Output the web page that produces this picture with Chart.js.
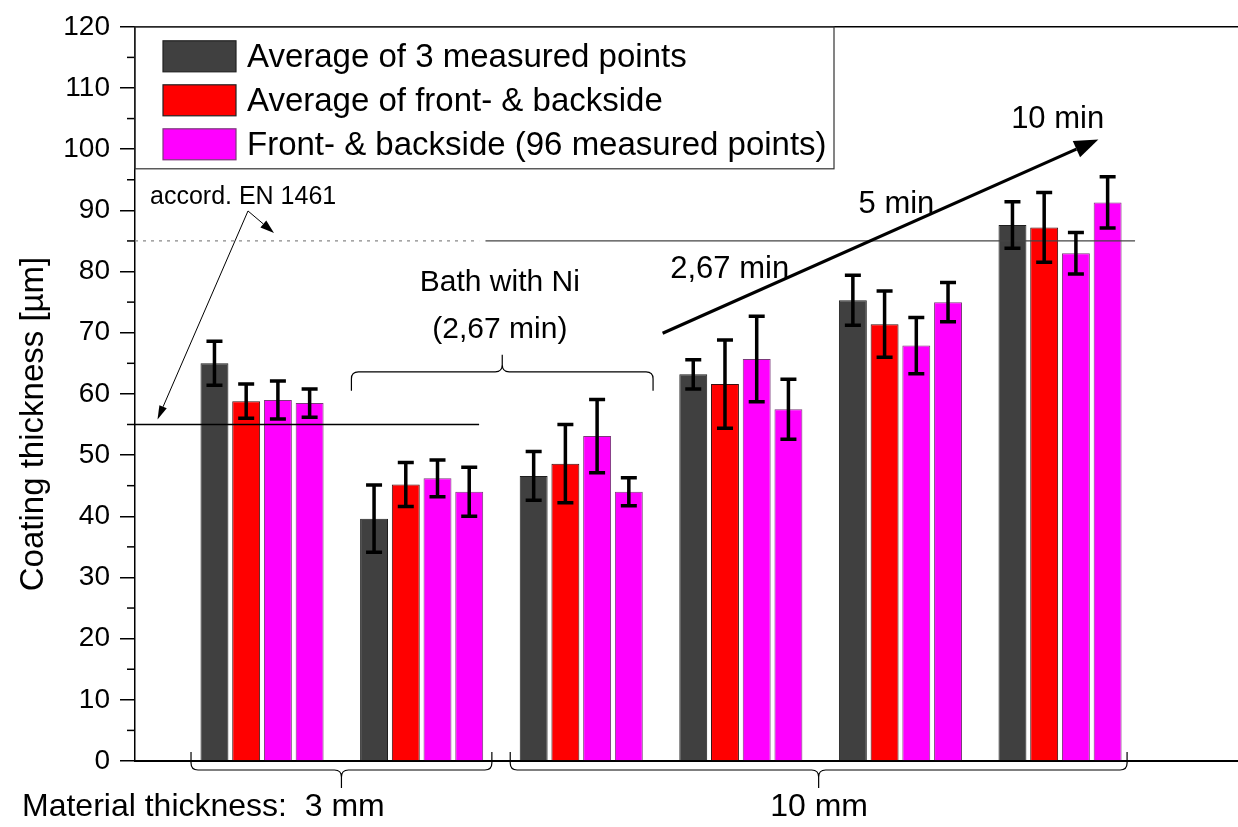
<!DOCTYPE html>
<html>
<head>
<meta charset="utf-8">
<script src="https://cdn.jsdelivr.net/npm/chart.js"></script>
<style>
  html, body { margin: 0; padding: 0; background: #fff; }
</style>
</head>
<body>
<canvas id="canvas" width="1238" height="827"></canvas>
<script>
// group positions on the x axis (3 mm sample first, then the 10 mm samples)
var groups = [1, 2, 3, 4, 5, 6];

var avg3Points   = [65.0, 39.6, 46.6, 63.2, 75.3, 87.6];
var avg3Err      = [3.6, 5.5, 4.0, 2.4, 4.1, 3.8];
var avgFrontBack = [58.8, 45.2, 48.6, 61.6, 71.4, 87.2];
var avgFBErr     = [2.8, 3.6, 6.4, 7.2, 5.4, 5.7];
var frontSide    = [59.0, 46.2, 53.1, 65.7, 67.9, 83.0];
var frontErr     = [3.1, 3.0, 6.0, 7.0, 4.6, 3.4];
var backSide     = [58.5, 44.0, 44.0, 57.5, 75.0, 91.3];
var backErr      = [2.3, 4.0, 2.3, 4.9, 3.2, 4.2];

var seriesLabels = ['Average of 3 measured points', 'Average of front- & backside', 'Front- & backside (96 measured points)'];
var seriesColors = ['#404040', '#ff0000', '#ff00ff'];

var yMin = 0, yMax = 120, yStep = 10;
var limitLow = 55, limitHigh = 85;   // accord. EN 1461

var FONT = '"Liberation Sans", Arial, sans-serif';

function pts(vals) {
   return vals.map(function(v, i) { return {x: groups[i], y: v}; });
}

function arrow(ctx, x1, y1, x2, y2, lw, headLen, headW) {
   var a = Math.atan2(y2 - y1, x2 - x1);
   var bx = x2 - headLen * Math.cos(a), by = y2 - headLen * Math.sin(a);
   ctx.lineWidth = lw;
   ctx.beginPath();
   ctx.moveTo(x1, y1);
   ctx.lineTo(bx, by);
   ctx.stroke();
   ctx.beginPath();
   ctx.moveTo(x2, y2);
   ctx.lineTo(bx + headW / 2 * Math.sin(a), by - headW / 2 * Math.cos(a));
   ctx.lineTo(bx - headW / 2 * Math.sin(a), by + headW / 2 * Math.cos(a));
   ctx.closePath();
   ctx.fill();
}

function brace(ctx, xL, xR, yEnd, yLine, yTip) {
   var xm = (xL + xR) / 2, r = 7;
   var s = yTip > yLine ? 1 : -1;
   ctx.beginPath();
   ctx.moveTo(xL, yEnd);
   ctx.lineTo(xL, yLine - s * r);
   ctx.quadraticCurveTo(xL, yLine, xL + r, yLine);
   ctx.lineTo(xm - r, yLine);
   ctx.quadraticCurveTo(xm, yLine, xm, yLine + s * r);
   ctx.lineTo(xm, yTip);
   ctx.moveTo(xm, yLine + s * r);
   ctx.quadraticCurveTo(xm, yLine, xm + r, yLine);
   ctx.lineTo(xR - r, yLine);
   ctx.quadraticCurveTo(xR, yLine, xR, yLine - s * r);
   ctx.lineTo(xR, yEnd);
   ctx.stroke();
}

var errorBars = {
   id: 'errorBars',
   afterDatasetsDraw: function(chart) {
      var ctx = chart.ctx, ys = chart.scales.y, xs = chart.scales.x, ca = chart.chartArea;
      ctx.save();
      // reference lines
      ctx.strokeStyle = '#000';
      ctx.lineWidth = 1.3;
      ctx.beginPath();
      ctx.moveTo(ca.left, ys.getPixelForValue(limitLow));
      ctx.lineTo(xs.getPixelForValue(2.36), ys.getPixelForValue(limitLow));
      ctx.stroke();
      ctx.strokeStyle = '#888';
      ctx.setLineDash([3, 5]);
      ctx.beginPath();
      ctx.moveTo(ca.left, ys.getPixelForValue(limitHigh));
      ctx.lineTo(xs.getPixelForValue(2.36), ys.getPixelForValue(limitHigh));
      ctx.stroke();
      ctx.setLineDash([]);
      ctx.strokeStyle = '#444';
      ctx.beginPath();
      ctx.moveTo(xs.getPixelForValue(2.40), ys.getPixelForValue(limitHigh));
      ctx.lineTo(xs.getPixelForValue(6.47), ys.getPixelForValue(limitHigh));
      ctx.stroke();

      // error bars
      ctx.strokeStyle = '#000';
      ctx.lineWidth = 3.5;
      chart.data.datasets.forEach(function(ds, di) {
         var meta = chart.getDatasetMeta(di);
         meta.data.forEach(function(bar, i) {
            var v = ds.data[i].y, e = ds.err[i];
            var yt = ys.getPixelForValue(v + e), yb = ys.getPixelForValue(v - e);
            ctx.beginPath();
            ctx.moveTo(bar.x, yt); ctx.lineTo(bar.x, yb);
            ctx.moveTo(bar.x - 8, yt); ctx.lineTo(bar.x + 8, yt);
            ctx.moveTo(bar.x - 8, yb); ctx.lineTo(bar.x + 8, yb);
            ctx.stroke();
         });
      });
      ctx.restore();
   }
};

var decorations = {
   id: 'decorations',
   afterDraw: function(chart) {
      var ctx = chart.ctx, ys = chart.scales.y, xs = chart.scales.x, ca = chart.chartArea;
      ctx.save();
      ctx.strokeStyle = '#000';
      ctx.fillStyle = '#000';

      // top frame
      ctx.lineWidth = 1.5;
      ctx.beginPath();
      ctx.moveTo(ca.left, ca.top); ctx.lineTo(ca.right, ca.top);
      ctx.stroke();

      // minor ticks
      ctx.lineWidth = 1.5;
      for (var v = yMin + yStep / 2; v < yMax; v += yStep) {
         var py = ys.getPixelForValue(v);
         ctx.beginPath();
         ctx.moveTo(ca.left - 8, py); ctx.lineTo(ca.left, py);
         ctx.stroke();
      }

      // legend
      ctx.lineWidth = 1.2;
      ctx.strokeStyle = '#333';
      ctx.strokeRect(ca.left, ca.top, 699, 142);
      ctx.font = '33px ' + FONT;
      ctx.textBaseline = 'middle';
      ctx.textAlign = 'left';
      seriesLabels.forEach(function(lbl, i) {
         var ty = ca.top + 14 + i * 44;
         ctx.fillStyle = seriesColors[i];
         ctx.fillRect(ca.left + 28, ty, 73, 31);
         ctx.strokeStyle = i === 2 ? '#7a3a7a' : '#222';
         ctx.strokeRect(ca.left + 28, ty, 73, 31);
         ctx.fillStyle = '#000';
         ctx.fillText(lbl, ca.left + 112, ty + 17);
      });

      // y title
      ctx.save();
      ctx.translate(34, 424);
      ctx.rotate(-Math.PI / 2);
      ctx.textAlign = 'center';
      ctx.font = '33px ' + FONT;
      ctx.fillText('Coating thickness [\u00b5m]', 0, 0);
      ctx.restore();

      // EN 1461 annotation
      ctx.font = '25px ' + FONT;
      ctx.textAlign = 'left';
      ctx.textBaseline = 'alphabetic';
      ctx.fillText('accord. EN 1461', 150, 204);
      var sx = xs.getPixelForValue(0.912), sy = ys.getPixelForValue(89.9);
      ctx.strokeStyle = '#000';
      arrow(ctx, sx, sy, xs.getPixelForValue(0.345), ys.getPixelForValue(55.8), 1, 14, 8);
      arrow(ctx, sx, sy, xs.getPixelForValue(1.075), ys.getPixelForValue(86.3), 1, 14, 9);

      // bath with Ni brace
      ctx.lineWidth = 1.2;
      brace(ctx, xs.getPixelForValue(1.56), xs.getPixelForValue(3.45),
            ys.getPixelForValue(60.5), ys.getPixelForValue(63.6), ys.getPixelForValue(66.4));
      ctx.font = '30px ' + FONT;
      ctx.textAlign = 'center';
      ctx.textBaseline = 'middle';
      ctx.fillText('Bath with Ni', xs.getPixelForValue(2.49), 283);
      ctx.fillText('(2,67 min)', xs.getPixelForValue(2.49), 330);

      // time arrow
      arrow(ctx, xs.getPixelForValue(3.51), ys.getPixelForValue(69.9),
            xs.getPixelForValue(6.24), ys.getPixelForValue(101.6), 3.2, 24, 18);
      ctx.font = '31px ' + FONT;
      ctx.fillText('10 min', xs.getPixelForValue(5.985), ys.getPixelForValue(104.8));
      ctx.fillText('5 min', xs.getPixelForValue(4.975), ys.getPixelForValue(90.9));
      ctx.fillText('2,67 min', xs.getPixelForValue(3.93), ys.getPixelForValue(80.4));

      // material thickness braces
      ctx.lineWidth = 1.2;
      brace(ctx, xs.getPixelForValue(0.555), xs.getPixelForValue(2.44), ca.bottom - 9, ca.bottom + 9, ca.bottom + 27);
      brace(ctx, xs.getPixelForValue(2.555), xs.getPixelForValue(6.42), ca.bottom - 9, ca.bottom + 9, ca.bottom + 27);
      ctx.font = '32px ' + FONT;
      ctx.textAlign = 'left';
      ctx.textBaseline = 'alphabetic';
      ctx.fillText('Material thickness:  3 mm', 22, 816);
      ctx.textAlign = 'center';
      ctx.fillText('10 mm', xs.getPixelForValue(4.49), 816);
      ctx.restore();
   }
};

var ctx = document.getElementById('canvas').getContext('2d');
var myChart = new Chart(ctx, {
   type: 'bar',
   data: {
      datasets: [{
         label: seriesLabels[0],
         data: pts(avg3Points),
         err: avg3Err,
         backgroundColor: seriesColors[0],
         borderColor: '#1e1e1e',
         borderWidth: 1
      }, {
         label: seriesLabels[1],
         data: pts(avgFrontBack),
         err: avgFBErr,
         backgroundColor: seriesColors[1],
         borderColor: '#3a1010',
         borderWidth: 1
      }, {
         label: seriesLabels[2],
         data: pts(frontSide),
         err: frontErr,
         backgroundColor: seriesColors[2],
         borderColor: '#7a3a7a',
         borderWidth: 1
      }, {
         label: '',
         data: pts(backSide),
         err: backErr,
         backgroundColor: seriesColors[2],
         borderColor: '#7a3a7a',
         borderWidth: 1
      }]
   },
   options: {
      responsive: false,
      animation: false,
      devicePixelRatio: 1,
      layout: { padding: { top: 26, left: 0, right: 0, bottom: 0 } },
      datasets: { bar: { categoryPercentage: 0.795, barPercentage: 0.88 } },
      plugins: { legend: { display: false }, tooltip: { enabled: false } },
      scales: {
         x: {
            type: 'linear',
            min: 0.204,
            max: 7.115,
            offset: false,
            afterBuildTicks: function(s) { s.ticks = groups.map(function(g) { return {value: g}; }); },
            ticks: { display: false },
            grid: { display: false, drawTicks: false, offset: false },
            border: { display: true, color: '#000', width: 2 },
            afterFit: function(s) { s.height = 66; }
         },
         y: {
            min: yMin,
            max: yMax,
            ticks: { stepSize: yStep, color: '#000', padding: 10, font: { family: FONT, size: 28 } },
            grid: { drawOnChartArea: false, drawTicks: true, tickLength: 15, color: '#000', lineWidth: 1.5 },
            border: { display: true, color: '#000', width: 1.5 },
            afterFit: function(s) { s.width = 135; }
         }
      }
   },
   plugins: [errorBars, decorations]
});
</script>
</body>
</html>
